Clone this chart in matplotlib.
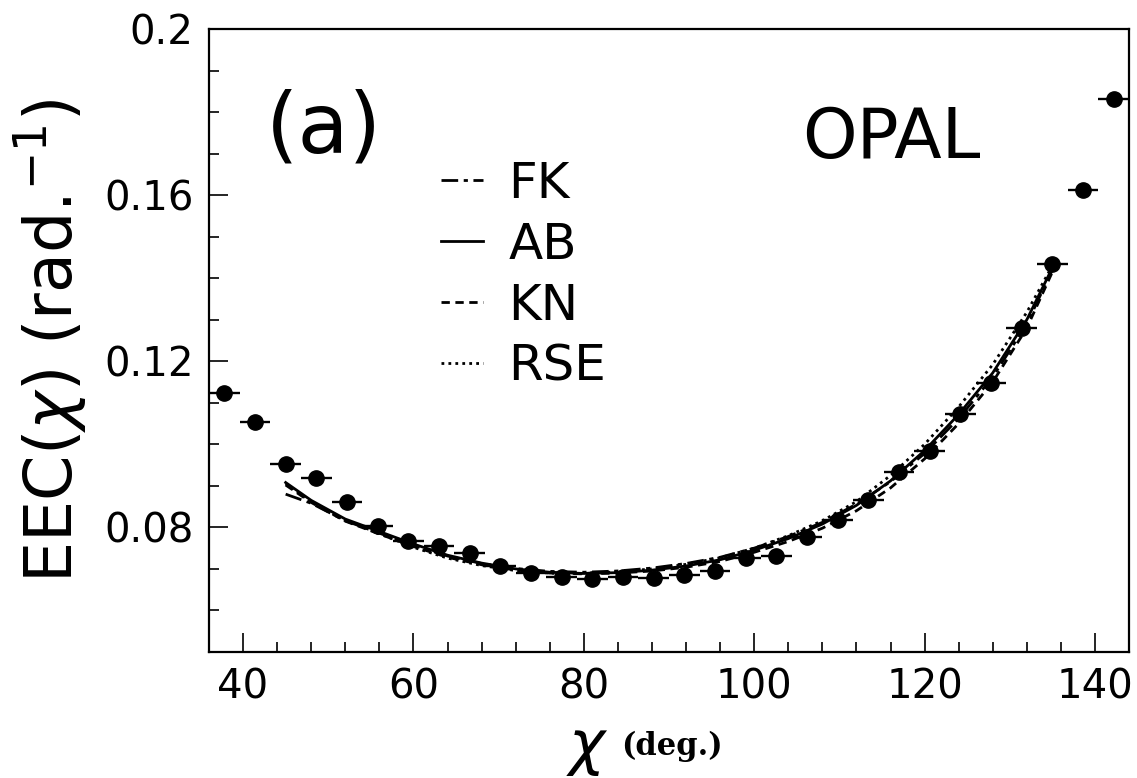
import numpy as np
import matplotlib.pyplot as plt
from matplotlib.ticker import MultipleLocator, FuncFormatter

# measured EEC points (bin centres, 3.6 deg bins)
chi = [37.8, 41.4, 45.0, 48.6, 52.2, 55.8, 59.4, 63.0, 66.6, 70.2,
       73.8, 77.4, 81.0, 84.6, 88.2, 91.8, 95.4, 99.0, 102.6, 106.2,
       109.8, 113.4, 117.0, 120.6, 124.2, 127.8, 131.4, 135.0, 138.6, 142.2]
eec = [0.1123, 0.1053, 0.0952, 0.0919, 0.0861, 0.0804, 0.0767, 0.0756, 0.0739, 0.0708,
       0.0691, 0.0681, 0.0675, 0.0681, 0.0678, 0.0686, 0.0696, 0.0726, 0.0730, 0.0778,
       0.0818, 0.0866, 0.0934, 0.0983, 0.1072, 0.1147, 0.1281, 0.1434, 0.1613, 0.1832]
halfbin = 1.8

# model curves
xc = [45, 48, 52, 56, 60, 64, 68, 72, 76, 80, 84, 88, 92, 96,
      100, 104, 108, 112, 116, 120, 124, 128, 132, 135]
ab = [0.0908, 0.0865, 0.0820, 0.0790, 0.0760, 0.0733, 0.0714, 0.0700, 0.0692, 0.0689,
      0.0691, 0.0697, 0.0707, 0.0722, 0.0745, 0.0773, 0.0808, 0.0853, 0.0912, 0.0985,
      0.1072, 0.1172, 0.1300, 0.1425]
fk = [0.0880, 0.0858, 0.0816, 0.0786, 0.0757, 0.0731, 0.0713, 0.0701, 0.0694, 0.0692,
      0.0695, 0.0702, 0.0713, 0.0728, 0.0750, 0.0778, 0.0812, 0.0856, 0.0910, 0.0978,
      0.1062, 0.1162, 0.1290, 0.1420]
kn = [0.0902, 0.0860, 0.0815, 0.0784, 0.0754, 0.0728, 0.0710, 0.0697, 0.0690, 0.0688,
      0.0690, 0.0695, 0.0704, 0.0718, 0.0740, 0.0766, 0.0798, 0.0840, 0.0895, 0.0965,
      0.1050, 0.1150, 0.1280, 0.1415]
rse = [0.0905, 0.0862, 0.0817, 0.0785, 0.0752, 0.0726, 0.0708, 0.0696, 0.0690, 0.0689,
       0.0693, 0.0700, 0.0711, 0.0727, 0.0750, 0.0780, 0.0816, 0.0862, 0.0925, 0.1000,
       0.1090, 0.1192, 0.1318, 0.1430]

fig = plt.figure(figsize=(11.37, 7.78), dpi=100)
ax = fig.add_axes([0.1838, 0.162, 0.8092, 0.8007])

ax.errorbar(chi, eec, xerr=halfbin, fmt='o', color='black', ms=11, elinewidth=1.7,
            capsize=0, zorder=5)

ax.plot(xc, fk, color='black', lw=2, linestyle=(0, (6, 2, 1.5, 2)), label='FK')
ax.plot(xc, ab, color='black', lw=2, linestyle='-', label='AB')
ax.plot(xc, kn, color='black', lw=2, linestyle=(0, (3, 2)), label='KN')
ax.plot(xc, rse, color='black', lw=2, linestyle=(0, (1, 1.5)), label='RSE')

ax.set_xlim(36, 144)
ax.set_ylim(0.05, 0.2)
ax.xaxis.set_major_locator(MultipleLocator(20))
ax.xaxis.set_minor_locator(MultipleLocator(4))
ax.yaxis.set_major_locator(MultipleLocator(0.04))
ax.yaxis.set_minor_locator(MultipleLocator(0.01))
ax.yaxis.set_major_formatter(FuncFormatter(lambda v, p: '%g' % round(v, 3)))

ax.tick_params(which='both', direction='in', top=False, right=False, labelsize=29)
ax.tick_params(which='major', length=14, width=1.2, pad=11)
ax.tick_params(which='minor', length=7, width=1.2)
for s in ax.spines.values():
    s.set_linewidth(1.6)

ax.set_ylabel(r'EEC($\chi$) (rad.$^{\mathregular{-1}}$)', fontsize=47)
ax.yaxis.set_label_coords(-0.13, 0.5)

ax.text(0.411, -0.155, r'$\chi$', transform=ax.transAxes, fontsize=44,
        ha='center', va='center')
ax.text(0.448, -0.152, '(deg.)', transform=ax.transAxes, fontsize=22,
        family='DejaVu Serif', weight='bold', ha='left', va='center')

ax.text(0.062, 0.84, '(a)', transform=ax.transAxes, fontsize=60, ha='left', va='center')
ax.text(0.645, 0.825, 'OPAL', transform=ax.transAxes, fontsize=50, ha='left', va='center')

leg = ax.legend(loc='upper left', bbox_to_anchor=(0.252, 0.79), frameon=False,
                fontsize=36, handlelength=0.85, handletextpad=0.5, labelspacing=0.26,
                borderpad=0, borderaxespad=0)

fig.savefig('out.png', dpi=100)
